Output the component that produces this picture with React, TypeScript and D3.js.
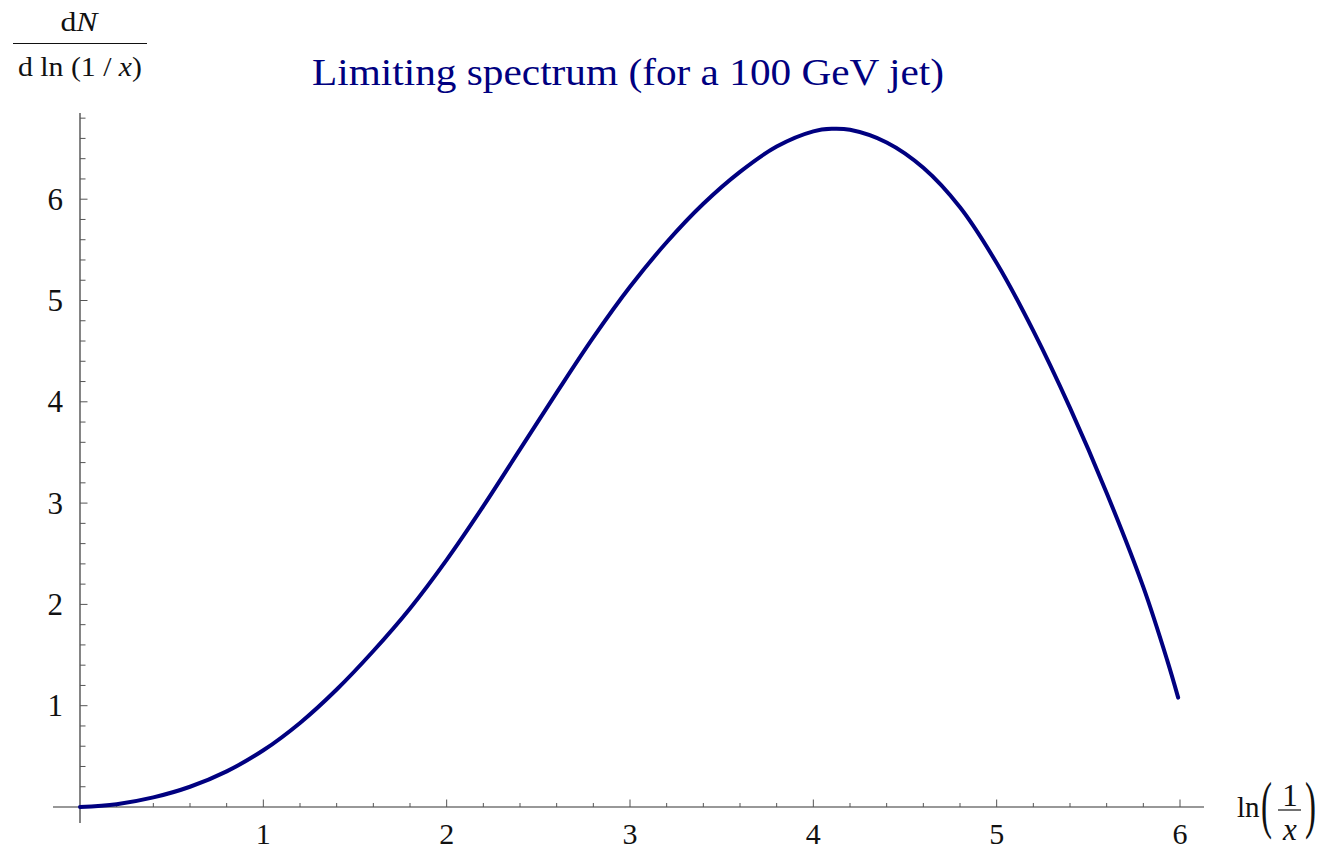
import React from "react";
import * as d3 from "d3";

// Curve samples: ln(1/x) and dN/dln(1/x)
const lnInvX = [0, 0.2, 0.4, 0.6, 0.8, 1.0, 1.2, 1.4, 1.6, 1.8, 2.0, 2.2, 2.4, 2.6, 2.8, 3.0, 3.2, 3.4, 3.6, 3.8, 4.0, 4.1, 4.2, 4.4, 4.6, 4.8, 5.0, 5.2, 5.4, 5.6, 5.8, 5.93, 5.99];
const spectrum = [0, 0.028, 0.095, 0.2, 0.352, 0.56, 0.83, 1.16, 1.54, 1.96, 2.44, 2.97, 3.53, 4.09, 4.635, 5.135, 5.575, 5.955, 6.27, 6.52, 6.67, 6.695, 6.685, 6.56, 6.31, 5.92, 5.37, 4.7, 3.94, 3.1, 2.17, 1.45, 1.08];

const xMajorTicks = [1, 2, 3, 4, 5, 6];
const yMajorTicks = [1, 2, 3, 4, 5, 6];
const xMinorTicks = d3.range(1, 31).map((i) => i / 5);
const yMinorTicks = d3.range(1, 35).map((i) => i / 5);

const titleText = "Limiting spectrum (for a 100 GeV jet)";

export default function App() {
  const W = 1326;
  const H = 851;
  const x = d3.scaleLinear().domain([0, 6]).range([80, 1180]);
  const y = d3.scaleLinear().domain([0, 6]).range([807, 199.2]);
  const pts: [number, number][] = lnInvX.map((v, i) => [v, spectrum[i]]);
  const line = d3
    .line<[number, number]>()
    .x((d) => x(d[0]))
    .y((d) => y(d[1]))
    .curve(d3.curveCatmullRom.alpha(0.5));

  const font = "'Liberation Serif', 'Times New Roman', serif";
  const axisColor = "#333";
  const tickColor = "#555";
  const textColor = "#111";
  const x0 = x(0);
  const y0 = y(0);

  return (
    <svg
      width={W}
      height={H}
      style={{ position: "absolute", left: 0, top: 0, background: "#fff" }}
      fontFamily={font}
    >
      {/* title */}
      <text x={628} y={85} textAnchor="middle" fontSize={38} fill="#000080" textLength={632} lengthAdjust="spacingAndGlyphs">
        {titleText}
      </text>

      {/* y-axis label as fraction */}
      <text x={79} y={31} textAnchor="middle" fontSize={27} fill={textColor} textLength={37} lengthAdjust="spacingAndGlyphs">
        d<tspan fontStyle="italic">N</tspan>
      </text>
      <line x1={13} x2={147} y1={43.5} y2={43.5} stroke={textColor} strokeWidth={1.2} />
      <text x={80} y={76} textAnchor="middle" fontSize={27} fill={textColor} textLength={124} lengthAdjust="spacingAndGlyphs">
        d ln (1 / <tspan fontStyle="italic">x</tspan>)
      </text>

      {/* x-axis label ln(1/x) */}
      <text x={1237} y={817} fontSize={29} fill={textColor}>ln</text>
      <g transform="translate(1261,826) scale(1.1,2.1)">
        <text x={0} y={0} fontSize={30} fill={textColor}>(</text>
      </g>
      <text x={1290} y={806} textAnchor="middle" fontSize={31} fill={textColor}>1</text>
      <line x1={1278} x2={1301} y1={810} y2={810} stroke={textColor} strokeWidth={1.2} />
      <text x={1290} y={840} textAnchor="middle" fontSize={31} fill={textColor} fontStyle="italic">x</text>
      <g transform="translate(1305,826) scale(1.1,2.1)">
        <text x={0} y={0} fontSize={30} fill={textColor}>)</text>
      </g>

      {/* axes */}
      <line x1={53} x2={1204} y1={y0} y2={y0} stroke={axisColor} strokeWidth={1.2} />
      <line x1={x0} x2={x0} y1={113} y2={823} stroke={axisColor} strokeWidth={1.2} />

      {/* x ticks */}
      {xMinorTicks.map((t) => {
        const major = Math.abs(t - Math.round(t)) < 1e-6;
        return (
          <line key={"xm" + t} x1={x(t)} x2={x(t)} y1={y0} y2={y0 - (major ? 7.5 : 4)} stroke={tickColor} strokeWidth={1} />
        );
      })}
      {xMajorTicks.map((t) => (
        <text key={"xl" + t} x={x(t)} y={844} textAnchor="middle" fontSize={30} fill={textColor}>
          {t}
        </text>
      ))}

      {/* y ticks */}
      {yMinorTicks.map((t) => {
        const major = Math.abs(t - Math.round(t)) < 1e-6;
        return (
          <line key={"ym" + t} x1={x0} x2={x0 + (major ? 7.5 : 5.5)} y1={y(t)} y2={y(t)} stroke={tickColor} strokeWidth={1} />
        );
      })}
      {yMajorTicks.map((t) => (
        <text key={"yl" + t} x={63} y={y(t)} dy="0.34em" textAnchor="end" fontSize={31} fill={textColor}>
          {t}
        </text>
      ))}

      {/* curve */}
      <path d={line(pts) || ""} fill="none" stroke="#000080" strokeWidth={4} strokeLinecap="round" strokeLinejoin="round" />
    </svg>
  );
}
